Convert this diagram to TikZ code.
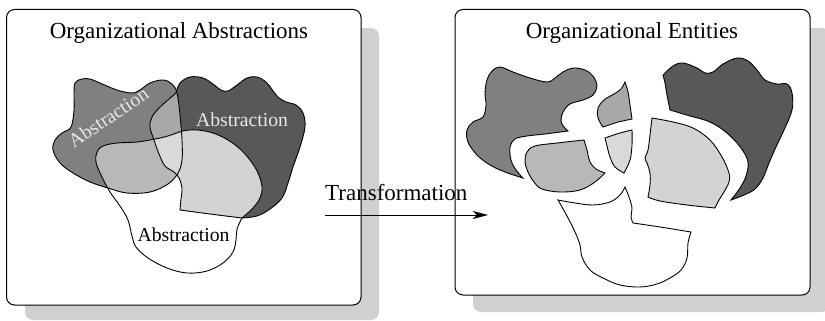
\documentclass[tikz,border=0pt]{standalone}
\usepackage{fontspec}
\setmainfont{Liberation Serif}
\usetikzlibrary{arrows.meta}

\definecolor{shadowgray}{HTML}{D0D0D0}
\definecolor{midgray}{HTML}{808080}
\definecolor{darkgray}{HTML}{585858}
\definecolor{mdgray}{HTML}{A8A8A8}
\definecolor{mwgray}{HTML}{B8B8B8}
\definecolor{dwgray}{HTML}{D3D3D3}
\definecolor{allgray}{HTML}{D9D9D9}
\definecolor{labelgray}{HTML}{E8E8E8}

% outlines of the three overlapping abstractions
\newcommand{\blobMid}{plot[smooth cycle, tension=0.6] coordinates {
  (75,83) (82,79) (90,79) (100,83) (117,90) (132,93) (140,90) (150,83)
  (163,80) (172,84) (177,93) (180,115) (182,140) (182,160) (178,173)
  (168,184) (150,192) (127,193) (108,188) (90,182) (73,173) (60,163)
  (53,150) (55,140) (62,133) (71,127) (74,110) (74,95)}}
\newcommand{\blobDark}{plot[smooth, tension=0.6] coordinates {
  (176,93) (180,83) (190,77) (203,78) (213,84) (221,90) (228,91) (237,85)
  (247,78) (257,77) (267,83) (277,96) (286,102) (296,105) (303,113)
  (305,127) (300,147) (293,167) (288,183) (282,198) (270,209) (257,216)
  (242,218)}
  -- plot[smooth, tension=0.6] coordinates {(242,218) (210,214) (180,210)}
  -- plot[smooth, tension=0.6] coordinates {
  (180,210) (181,199) (182,188) (179,178) (174,172) (165,166) (159,154)
  (154,140) (150,127) (152,117) (160,107) (168,100) (176,93)} -- cycle}
\newcommand{\blobWhite}{plot[smooth, tension=0.6] coordinates {
  (242,218) (237,229) (236,240) (233,252) (223,263) (207,271) (187,273)
  (167,268) (148,258) (136,247) (132,236) (128,220) (120,206) (110,192)
  (101,175) (96,162) (97,152) (103,146) (117,143) (137,142) (155,139)
  (168,136) (183,131) (197,130) (213,133) (228,140) (240,149) (250,160)
  (258,173) (262,187) (260,198) (253,208) (242,218)} -- cycle}

\tikzset{
  panel/.style={draw=black, line width=1pt, fill=white, rounded corners=8pt},
  panelshadow/.style={fill=shadowgray, rounded corners=8pt},
  outline/.style={draw=black, line width=0.9pt},
  title/.style={font=\fontsize{23}{27}\selectfont, inner sep=0pt},
  shapelabel/.style={font=\fontsize{19.7}{23}\selectfont, inner sep=0pt},
}

\begin{document}
\begin{tikzpicture}[x=1pt, y=-1pt]
\useasboundingbox (0,0) rectangle (825,321);

% panels with drop shadows
\fill[panelshadow] (25,28) rectangle (379,320);
\fill[panelshadow] (473,28) rectangle (830,312);
\draw[panel] (6.5,9.5) rectangle (361,305);
\draw[panel] (455,9.5) rectangle (810,295);

\node[title, anchor=base] (leftTitle) at (179,39) {Organizational Abstractions};
\node[title, anchor=base] (rightTitle) at (632,39) {Organizational Entities};

% overlapping abstractions: base fills
\fill[white] \blobWhite;
\fill[midgray] \blobMid;
\fill[darkgray] \blobDark;
% pairwise and triple overlaps
\begin{scope}
  \clip \blobMid;
  \fill[mdgray] \blobDark;
  \fill[mwgray] \blobWhite;
\end{scope}
\begin{scope}
  \clip \blobDark;
  \fill[dwgray] \blobWhite;
\end{scope}
\begin{scope}
  \clip \blobMid;
  \clip \blobDark;
  \fill[allgray] \blobWhite;
\end{scope}
% outlines on top
\draw[outline] \blobMid;
\draw[outline] \blobDark;
\draw[outline] \blobWhite;

\node[shapelabel, text=labelgray, anchor=base, rotate=34] (absMid) at (112,123) {Abstraction};
\node[shapelabel, text=labelgray, anchor=base] (absDark) at (242,126) {Abstraction};
\node[shapelabel, anchor=base] (absWhite) at (183.5,241) {Abstraction};

% transformation arrow
\node[title, anchor=base west] (transLabel) at (325,200) {Transformation};
\coordinate (arrowFrom) at (325,215);
\coordinate (arrowTo) at (488,215);
\draw[line width=1pt, -{Stealth[length=15pt, width=8pt, inset=4pt]}] (arrowFrom) -- (arrowTo);

% separated entities
% medium piece
\draw[outline, fill=midgray] plot[smooth, tension=0.6] coordinates {
  (523,178) (505,172) (490,165) (477,155) (468,142) (467,130) (473,122)
  (483,117) (486,105) (485,93) (487,80) (492,71) (500,67) (513,72) (530,78)
  (547,82) (555,78) (563,72) (573,68) (585,70) (593,76) (597,86) (593,95)
  (583,100) (570,104) (563,112) (561,121) (564,127) (568,131)}
  -- plot[smooth, tension=0.6] coordinates {
  (568,131) (545,134) (527,136) (515,139) (510,147) (511,160) (516,170) (523,178)} -- cycle;
% medium/white piece
\draw[outline, fill=mwgray] plot[smooth, tension=0.6] coordinates {
  (605,173) (596,169) (590,162) (587,150) (584,140)}
  -- plot[smooth, tension=0.6] coordinates {
  (584,140) (557,143) (535,146) (527,152) (525,162) (528,172) (534,182)
  (542,189) (560,192) (580,190) (595,182) (605,173)} -- cycle;
% medium/dark piece
\draw[outline, fill=mdgray] plot[smooth, tension=0.6] coordinates {
  (625,82) (628,92) (630,105) (632,119)}
  -- (618,122) -- (603,127)
  -- plot[smooth, tension=0.6] coordinates {
  (603,127) (598,118) (598,108) (604,100) (614,94) (621,89) (625,82)} -- cycle;
% triple piece
\draw[outline, fill=allgray] plot[smooth, tension=0.6] coordinates {
  (605,138) (620,133) (632,130)}
  -- plot[smooth, tension=0.6] coordinates {
  (632,130) (632,145) (630,160) (624,173)}
  -- plot[smooth, tension=0.6] coordinates {
  (624,173) (615,167) (610,157) (607,146) (605,138)} -- cycle;
% dark/white piece
\draw[outline, fill=dwgray] plot[smooth, tension=0.6] coordinates {
  (652,118) (673,122) (693,128) (710,140) (722,157) (729,173) (729,182)
  (724,192) (719,200) (715,208)}
  -- plot[smooth, tension=0.6] coordinates {(715,208) (687,205) (660,201) (648,197)}
  -- plot[smooth, tension=0.6] coordinates {
  (648,197) (650,185) (650,173) (647,163) (645,158) (648,150) (650,135) (652,118)} -- cycle;
% dark piece
\draw[outline, fill=darkgray] plot[smooth, tension=0.6] coordinates {
  (663,75) (673,66) (683,63) (697,68) (705,73) (713,72) (723,64) (737,58)
  (748,61) (757,70) (765,80) (777,84) (787,84) (792,93) (792,110) (784,130)
  (776,147) (769,163) (763,178) (755,189) (744,195) (731,200)}
  -- plot[smooth, tension=0.6] coordinates {
  (731,200) (740,188) (746,176) (748,162) (741,148) (727,133) (710,122)
  (690,116) (680,113) (670,110)}
  -- plot[smooth, tension=0.6] coordinates {(670,110) (667,95) (665,83) (663,75)} -- cycle;
% white piece
\draw[outline, fill=white] plot[smooth, tension=0.6] coordinates {
  (558,200) (575,203) (593,205) (610,202) (620,195) (625,187)}
  -- plot[smooth, tension=0.6] coordinates {
  (625,187) (629,197) (632,208) (631,217) (633,223)}
  -- plot[smooth, tension=0.6] coordinates {(633,223) (660,227) (691,232)}
  -- plot[smooth, tension=0.6] coordinates {
  (691,232) (688,243) (687,258) (681,270) (670,278) (657,284) (640,287)
  (620,285) (603,278) (590,270) (582,257) (580,245) (575,232) (567,216) (558,200)} -- cycle;
\end{tikzpicture}
\end{document}
